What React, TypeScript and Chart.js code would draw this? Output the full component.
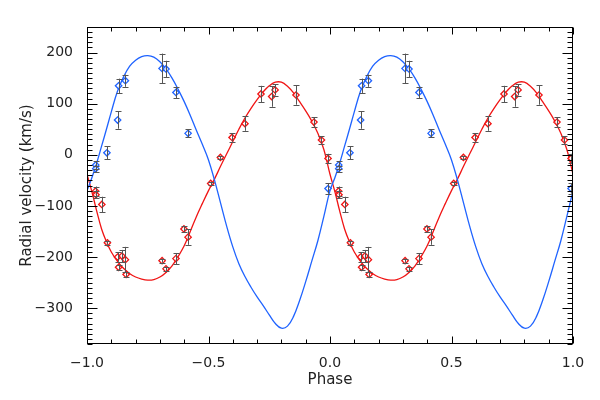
import React, { useEffect, useRef } from "react";
import { Chart, registerables } from "chart.js";

Chart.register(...registerables);

// ---- data (phase in [0,1), plotted at phase-1 and phase) ----
const bluePhase = [0.036, 0.036, 0.082, 0.126, 0.130, 0.158, 0.309, 0.325, 0.366, 0.416, 0.992];
const blueRV = [-20, -27, 4, 68, 135, 145, 169, 168, 122, 42, -66];
const blueErr = [7, 6, 13, 17, 14, 12, 29, 16, 11, 8, 10];

const redPhase = [0.035, 0.037, 0.061, 0.084, 0.126, 0.130, 0.144, 0.158, 0.161, 0.309, 0.325, 0.366, 0.399, 0.416, 0.509, 0.549, 0.597, 0.650, 0.716, 0.760, 0.774, 0.860, 0.934, 0.965, 0.992];
const redRV = [-71, -78, -97, -172, -200, -220, -198, -205, -234, -207, -223, -203, -145, -161, -56, -5, 34, 61, 119, 114, 127, 117, 64, 29, -7];
const redErr = [9, 7, 15, 4, 9, 5, 12, 25, 5, 4, 4, 11, 5, 15, 3, 3, 8, 14, 16, 20, 11, 19, 9, 7, 9];

// model curves (one period)
const curvePhase = [0, 0.02, 0.04, 0.06, 0.08, 0.1, 0.125, 0.15, 0.175, 0.2, 0.225, 0.25, 0.275, 0.3, 0.325, 0.35, 0.375, 0.4, 0.425, 0.45, 0.475, 0.5, 0.525, 0.55, 0.575, 0.6, 0.625, 0.65, 0.675, 0.7, 0.725, 0.75, 0.775, 0.8, 0.825, 0.85, 0.875, 0.9, 0.925, 0.95, 0.975, 1.0];
const blueCurve = [-70, -45, -16, 17, 50, 84, 124, 152, 173, 185, 192, 194, 191, 182, 168, 150, 128, 104, 77, 48, 20, -10, -50, -95, -140, -180, -213, -238, -259, -278, -295, -313, -330, -339, -335, -316, -285, -248, -208, -168, -120, -70];
const redCurve = [-38, -72, -110, -145, -170, -190, -208, -222, -232, -239, -243, -245, -244, -239, -230, -217, -199, -178, -150, -121, -95, -70, -47, -22, 2, 26, 50, 72, 91, 108, 123, 135, 142, 142, 134, 121, 104, 86, 66, 42, 10, -38];

const xTicks = [-1, -0.5, 0, 0.5, 1];
const yTicks = [-300, -200, -100, 0, 100, 200];
const X_MIN = -1, X_MAX = 1, Y_MIN = -370, Y_MAX = 250;
const X_MINOR = 0.1, Y_MINOR = 10;

const BLUE = "#1f63ff";
const RED = "#f01414";
const FONT = "'DejaVu Sans', sans-serif";
const TEXT = "#222";

function fmt(v: number, d: number) {
  const s = Math.abs(v).toFixed(d);
  return (v < -1e-9 ? "\u2212" : "") + s;
}

function twoPeriods(ph: number[], vals: number[]) {
  const out: { x: number; y: number }[] = [];
  [-1, 0].forEach((sh) => {
    ph.forEach((p, i) => {
      const xv = p + sh;
      if (xv >= X_MIN - 1e-9 && xv <= X_MAX + 1e-9) out.push({ x: xv, y: vals[i] });
    });
  });
  return out;
}

function curveData(vals: number[]) {
  const out: { x: number; y: number }[] = [];
  curvePhase.forEach((p, i) => out.push({ x: p - 1, y: vals[i] }));
  curvePhase.forEach((p, i) => { if (i > 0) out.push({ x: p, y: vals[i] }); });
  return out;
}

const axisPlugin = {
  id: "axisFrame",
  afterDatasetsDraw(chart: any) {
    const { ctx, chartArea: a, scales } = chart;
    const x = scales.x, y = scales.y;
    ctx.save();
    ctx.beginPath();
    ctx.rect(a.left, a.top, a.right - a.left, a.bottom - a.top);
    ctx.clip();
    ctx.strokeStyle = "#555";
    ctx.lineWidth = 1;
    const draw = (ph: number[], vals: number[], errs: number[]) => {
      [-1, 0].forEach((sh) => {
        ph.forEach((p, i) => {
          const xv = p + sh;
          if (xv < X_MIN || xv > X_MAX) return;
          const px = Math.round(x.getPixelForValue(xv)) + 0.5;
          const y1 = y.getPixelForValue(vals[i] + errs[i]);
          const y2 = y.getPixelForValue(vals[i] - errs[i]);
          ctx.beginPath();
          ctx.moveTo(px, y1); ctx.lineTo(px, y2);
          ctx.moveTo(px - 3, Math.round(y1) + 0.5); ctx.lineTo(px + 3, Math.round(y1) + 0.5);
          ctx.moveTo(px - 3, Math.round(y2) + 0.5); ctx.lineTo(px + 3, Math.round(y2) + 0.5);
          ctx.stroke();
        });
      });
    };
    draw(bluePhase, blueRV, blueErr);
    draw(redPhase, redRV, redErr);
    ctx.restore();
  },
  afterDraw(chart: any) {
    const { ctx, chartArea: a, scales } = chart;
    const x = scales.x, y = scales.y;
    ctx.save();
    ctx.strokeStyle = "#000";
    ctx.lineWidth = 1;
    const L = Math.round(a.left) + 0.5, R = Math.round(a.right) - 0.5;
    const T = Math.round(a.top) + 0.5, B = Math.round(a.bottom) - 0.5;
    ctx.strokeRect(L, T, R - L, B - T);
    ctx.beginPath();
    const nx = Math.round((X_MAX - X_MIN) / X_MINOR);
    for (let i = 0; i <= nx; i++) {
      const v = X_MIN + i * X_MINOR;
      const major = xTicks.some((t) => Math.abs(t - v) < 1e-6);
      const len = major ? 7 : 4;
      const px = Math.round(x.getPixelForValue(v)) + 0.5;
      ctx.moveTo(px, B); ctx.lineTo(px, B - len);
      ctx.moveTo(px, T); ctx.lineTo(px, T + len);
    }
    for (let v = Math.ceil(Y_MIN / Y_MINOR) * Y_MINOR; v <= Y_MAX; v += Y_MINOR) {
      const major = yTicks.includes(v);
      const len = major ? 10 : 5;
      const py = Math.round(y.getPixelForValue(v)) + 0.5;
      ctx.moveTo(L, py); ctx.lineTo(L + len, py);
      ctx.moveTo(R, py); ctx.lineTo(R - len, py);
    }
    ctx.stroke();
    ctx.restore();
  },
};

export default function App() {
  const ref = useRef<HTMLCanvasElement | null>(null);
  useEffect(() => {
    document.body.style.margin = "0";
    const canvas = ref.current!;
    const chart = new Chart(canvas, {
      type: "scatter",
      data: {
        datasets: [
          {
            label: "blue obs",
            data: twoPeriods(bluePhase, blueRV),
            pointStyle: "rectRot",
            pointRadius: 3.2,
            borderColor: BLUE,
            backgroundColor: "rgba(255,255,255,0.7)",
            borderWidth: 1.3,
            showLine: false,
            order: 0,
          },
          {
            label: "red obs",
            data: twoPeriods(redPhase, redRV),
            pointStyle: "rectRot",
            pointRadius: 3.2,
            borderColor: RED,
            backgroundColor: "rgba(255,255,255,0.7)",
            borderWidth: 1.3,
            showLine: false,
            order: 0,
          },
          {
            label: "blue model",
            data: curveData(blueCurve),
            showLine: true,
            pointRadius: 0,
            borderColor: BLUE,
            borderWidth: 1.3,
            tension: 0.4,
            order: 2,
          } as any,
          {
            label: "red model",
            data: curveData(redCurve),
            showLine: true,
            pointRadius: 0,
            borderColor: RED,
            borderWidth: 1.3,
            tension: 0.4,
            order: 2,
          } as any,
        ],
      },
      options: {
        responsive: false,
        animation: false,
        events: [],
        layout: { padding: { left: 0, right: 27, top: 27, bottom: 0 } },
        plugins: { legend: { display: false }, tooltip: { enabled: false } },
        scales: {
          x: {
            type: "linear",
            min: X_MIN,
            max: X_MAX,
            grid: { display: false },
            border: { display: false },
            ticks: {
              font: { family: FONT, size: 14 },
              color: TEXT,
              padding: 3,
              maxRotation: 0,
              callback: (v: any) => fmt(Number(v), 1),
            },
            afterBuildTicks: (s: any) => { s.ticks = xTicks.map((v) => ({ value: v })); },
            afterFit: (s: any) => { s.height = 56; },
            title: {
              display: true,
              text: "Phase",
              font: { family: FONT, size: 15 },
              color: TEXT,
              padding: { top: 0, bottom: 11 },
            },
          },
          y: {
            type: "linear",
            min: Y_MIN,
            max: Y_MAX,
            grid: { display: false },
            border: { display: false },
            ticks: {
              font: { family: FONT, size: 14 },
              color: TEXT,
              padding: 6,
              callback: (v: any) => fmt(Number(v), 0),
            },
            afterBuildTicks: (s: any) => { s.ticks = yTicks.map((v) => ({ value: v })); },
            afterFit: (s: any) => { s.width = 87; },
            title: {
              display: true,
              text: "Radial velocity (km/s)",
              font: { family: FONT, size: 15 },
              color: TEXT,
              padding: { top: 18, bottom: 0 },
            },
          },
        },
      },
      plugins: [axisPlugin],
    });
    return () => chart.destroy();
  }, []);
  return (
    <div style={{ width: 600, height: 400 }}>
      <canvas ref={ref} width={600} height={400} />
    </div>
  );
}
